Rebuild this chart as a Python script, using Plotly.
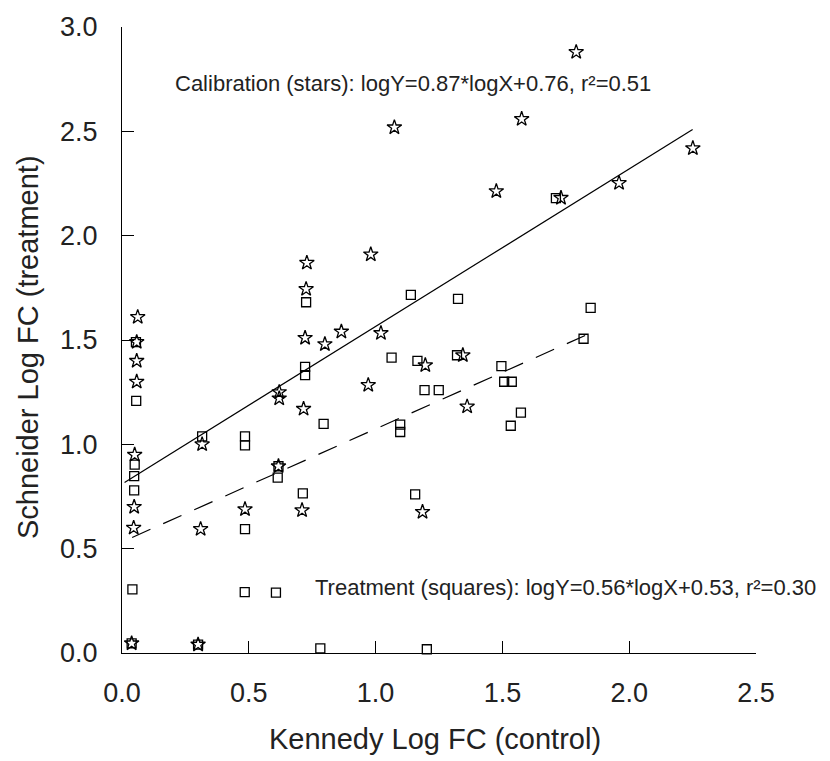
import plotly.graph_objects as go

# ---- Data ----
calib_x = [0.062, 0.058, 0.058, 0.058, 0.050, 0.048, 0.046, 0.038,
           0.300, 0.310, 0.316, 0.485, 0.617, 0.620, 0.620, 0.710, 0.716,
           0.722, 0.726, 0.729, 0.800, 0.865, 0.971, 0.981, 1.021, 1.074,
           1.185, 1.196, 1.344, 1.361, 1.476, 1.576, 1.731, 1.791, 1.960, 2.251]
calib_y = [1.61, 1.49, 1.40, 1.30, 0.95, 0.70, 0.60, 0.046,
           0.040, 0.594, 1.00, 0.689, 0.895, 1.25, 1.22, 0.684, 1.17,
           1.51, 1.744, 1.87, 1.48, 1.54, 1.284, 1.91, 1.533, 2.519,
           0.676, 1.379, 1.427, 1.181, 2.213, 2.559, 2.181, 2.88, 2.252, 2.419]

treat_x = [0.055, 0.056, 0.050, 0.048, 0.048, 0.041, 0.038,
           0.300, 0.316, 0.485, 0.485, 0.485, 0.484, 0.607, 0.614, 0.617,
           0.713, 0.722, 0.722, 0.726, 0.782, 0.795, 1.063, 1.097, 1.097,
           1.139, 1.156, 1.165, 1.193, 1.202, 1.249, 1.321, 1.325, 1.496,
           1.507, 1.537, 1.533, 1.573, 1.711, 1.820, 1.848]
treat_y = [1.49, 1.208, 0.903, 0.848, 0.779, 0.305, 0.046,
           0.040, 1.038, 1.038, 0.995, 0.594, 0.292, 0.289, 0.84, 0.895,
           0.765, 1.371, 1.332, 1.681, 0.022, 1.098, 1.416, 1.094, 1.059,
           1.716, 0.76, 1.40, 1.26, 0.018, 1.26, 1.427, 1.697, 1.375,
           1.30, 1.30, 1.089, 1.152, 2.18, 1.506, 1.654]

# fitted lines (as drawn)
calib_slope, calib_intercept, calib_xrange = 0.755, 0.81, [0.01, 2.25]
treat_slope, treat_intercept, treat_xrange = 0.542, 0.532, [0.04, 1.85]

x_ticks = [0.0, 0.5, 1.0, 1.5, 2.0, 2.5]
y_ticks = [0.0, 0.5, 1.0, 1.5, 2.0, 2.5, 3.0]
x_title = "Kennedy Log FC (control)"
y_title = "Schneider Log FC (treatment)"
calib_label = "Calibration (stars): logY=0.87*logX+0.76, r\u00b2=0.51"
treat_label = "Treatment (squares): logY=0.56*logX+0.53, r\u00b2=0.30"

FONT = "Liberation Sans, Arial, sans-serif"

fig = go.Figure()
fig.add_trace(go.Scatter(
    x=calib_xrange, y=[calib_slope * v + calib_intercept for v in calib_xrange],
    mode="lines", line=dict(color="black", width=1.2), showlegend=False,
    hoverinfo="skip", cliponaxis=False))
fig.add_trace(go.Scatter(
    x=treat_xrange, y=[treat_slope * v + treat_intercept for v in treat_xrange],
    mode="lines", line=dict(color="black", width=1.2, dash="20px,14px"),
    showlegend=False, hoverinfo="skip", cliponaxis=False))
fig.add_trace(go.Scatter(
    x=treat_x, y=treat_y, mode="markers", name="Treatment",
    marker=dict(symbol="square-open", size=9, color="black",
                line=dict(width=1.3, color="black")),
    showlegend=False, cliponaxis=False))
fig.add_trace(go.Scatter(
    x=calib_x, y=calib_y, mode="markers", name="Calibration",
    marker=dict(symbol="star-open", size=11, color="black",
                line=dict(width=1.3, color="black")),
    showlegend=False, cliponaxis=False))

axis_common = dict(
    showgrid=False, zeroline=False, showline=True, linecolor="black",
    linewidth=1.3, ticks="inside", ticklen=12, tickwidth=1.2,
    tickcolor="black", tickfont=dict(family=FONT, size=27, color="#222"),
    mirror=False)

fig.update_xaxes(range=[0, 2.5], tickvals=x_ticks,
                 ticktext=[f"{v:.1f}" for v in x_ticks],
                 ticklabelstandoff=15, **axis_common)
fig.update_yaxes(range=[0, 3.0], tickvals=y_ticks,
                 ticktext=[f"{v:.1f}" for v in y_ticks],
                 ticklabelstandoff=18, **axis_common)

fig.add_annotation(text=x_title, xref="paper", yref="paper",
                   x=0.494, y=-0.138, showarrow=False,
                   xanchor="center", yanchor="middle",
                   font=dict(family=FONT, size=29, color="#222"))
fig.add_annotation(text=y_title, xref="paper", yref="paper",
                   x=-0.148, y=0.489, showarrow=False, textangle=-90,
                   xanchor="center", yanchor="middle",
                   font=dict(family=FONT, size=29, color="#222"))
fig.add_annotation(text=calib_label, xref="paper", yref="paper",
                   x=0.0804, y=0.9095, showarrow=False,
                   xanchor="left", yanchor="middle",
                   font=dict(family=FONT, size=22, color="#222"))
fig.add_annotation(text=treat_label, xref="paper", yref="paper",
                   x=0.301, y=0.105, showarrow=False,
                   xanchor="left", yanchor="middle",
                   font=dict(family=FONT, size=22, color="#222"))

fig.update_layout(
    width=830, height=761,
    margin=dict(l=122, r=74, t=23, b=108),
    plot_bgcolor="white", paper_bgcolor="white",
    font=dict(family=FONT, color="black"),
    showlegend=False)

fig.write_html("out.html")
